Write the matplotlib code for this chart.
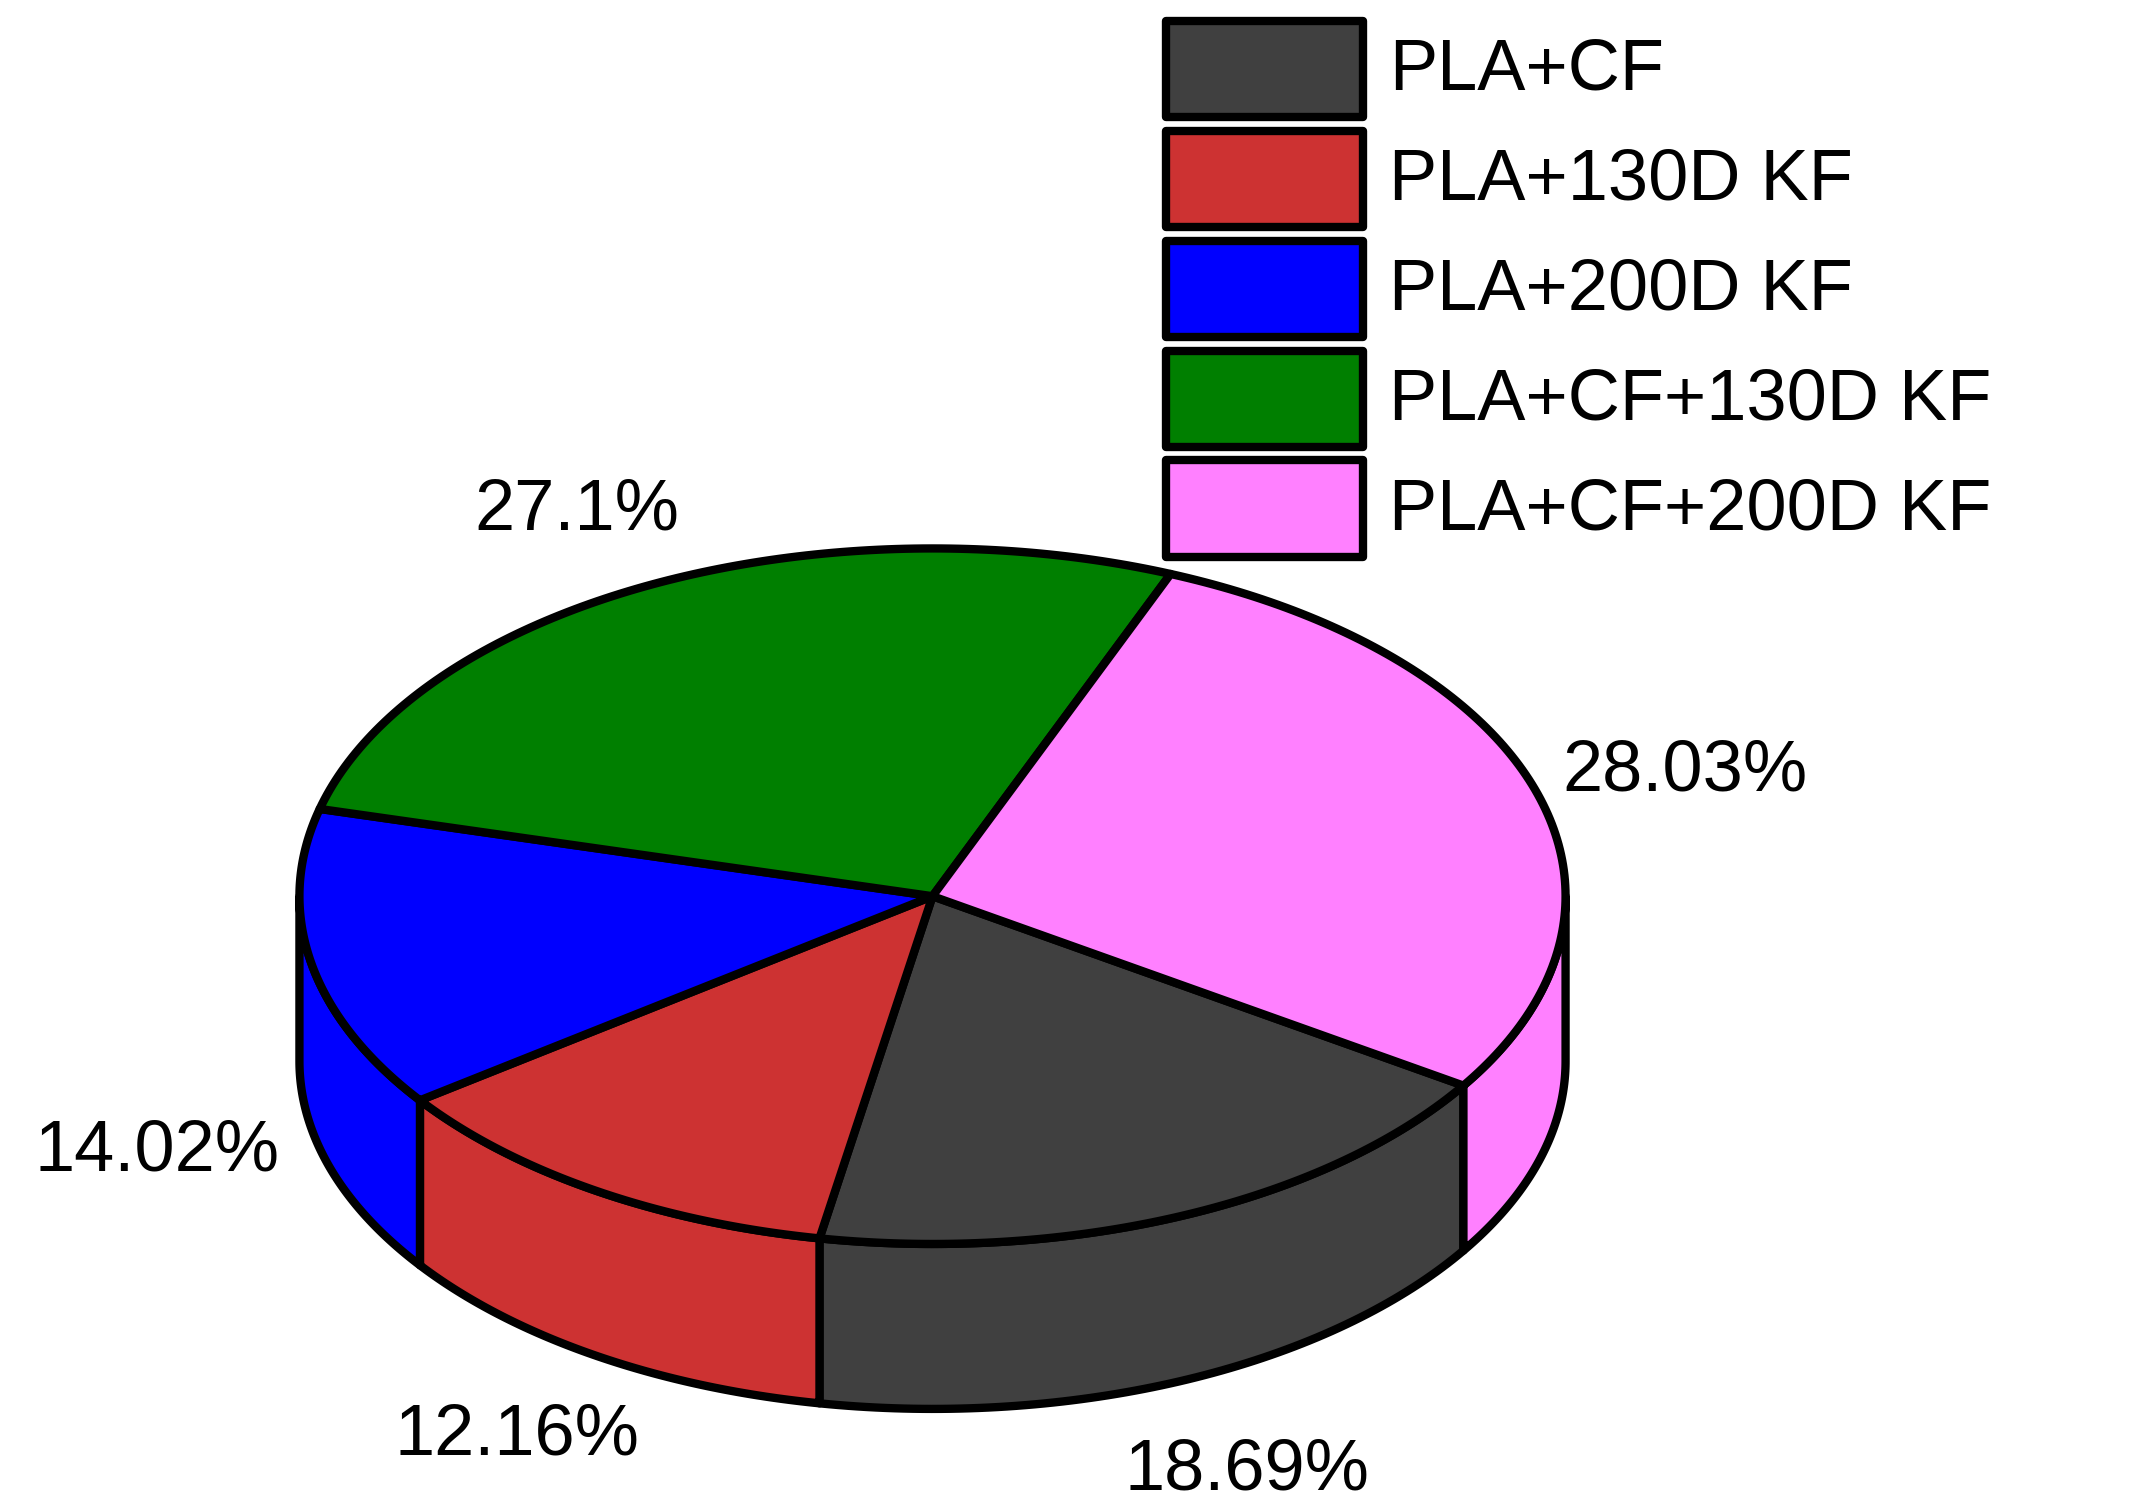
import numpy as np
import matplotlib.pyplot as plt
from matplotlib.patches import Polygon, Rectangle

plt.rcParams['font.family'] = ['Liberation Sans', 'DejaVu Sans']

labels = ['PLA+CF', 'PLA+130D KF', 'PLA+200D KF', 'PLA+CF+130D KF', 'PLA+CF+200D KF']
values = [18.69, 12.16, 14.02, 27.1, 28.03]
pct_text = ['18.69%', '12.16%', '14.02%', '27.1%', '28.03%']
colors = ['#404040', '#cd3232', '#0000ff', '#007f00', '#ff80ff']

# geometry in reference-pixel units (1560 x 1100 canvas)
cx, cy, rx, ry, depth = 682, 652, 463, 253, 120
start = -33.0
lw = 6

fig = plt.figure(figsize=(21.33, 15.12), dpi=100)
ax = fig.add_axes([0, 0, 1, 1])
ax.set_xlim(0, 1560)
ax.set_ylim(1100, 0)
ax.axis('off')


def pt(a, dy=0):
    r = np.radians(a)
    return cx + rx * np.cos(r), cy - ry * np.sin(r) + dy


spans = []
a0 = start
for v in values:
    a1 = a0 - v * 3.6
    spans.append((a1, a0))
    a0 = a1

# side walls (front half)
for (a1, a0), c in zip(spans, colors):
    for k in (-1, 0, 1):
        lo, hi = max(a1 + 360 * k, -180), min(a0 + 360 * k, 0)
        if hi > lo:
            t = np.linspace(lo, hi, 80)
            top = [pt(a) for a in t]
            bot = [pt(a, depth) for a in t[::-1]]
            ax.add_patch(Polygon(top + bot, closed=True, fc=c, ec='black',
                                 lw=lw, joinstyle='round'))

# top faces
for (a1, a0), c in zip(spans, colors):
    t = np.linspace(a0, a1, 120)
    ax.add_patch(Polygon([(cx, cy)] + [pt(a) for a in t], closed=True, fc=c,
                         ec='black', lw=lw, joinstyle='round'))

label_pos = [(912, 1070), (378, 1045), (115, 838), (422, 372), (1232, 562)]
for (x, y), s in zip(label_pos, pct_text):
    ax.text(x, y, s, fontsize=52, ha='center', va='center')

# legend
for i, (lab, c) in enumerate(zip(labels, colors)):
    y0 = 15 + 80 * i
    ax.add_patch(Rectangle((853, y0), 144, 70, fc=c, ec='black', lw=lw,
                           joinstyle='round'))
    ax.text(1016, y0 + 37, lab, fontsize=52, ha='left', va='center')

fig.savefig('out.png', dpi=100)
